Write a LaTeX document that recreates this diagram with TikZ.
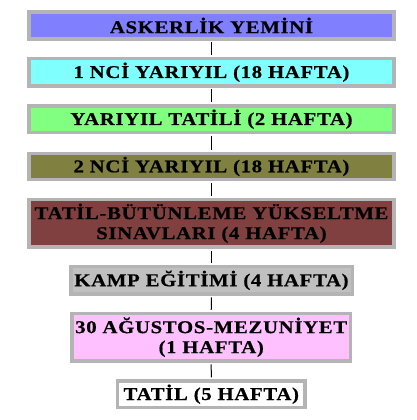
\documentclass[tikz,border=0pt]{standalone}
\usepackage{fontspec}
\setmainfont{Liberation Serif}[FakeStretch=1.15,LetterSpace=4,BoldFeatures={FakeBold=0.6}]
\definecolor{framegray}{HTML}{B4B4B4}
\definecolor{yeminblue}{HTML}{8080FF}
\definecolor{firstcyan}{HTML}{80FFFF}
\definecolor{breakgreen}{HTML}{80FF80}
\definecolor{secondolive}{HTML}{808040}
\definecolor{examred}{HTML}{804040}
\definecolor{campgray}{HTML}{C0C0C0}
\definecolor{gradpink}{HTML}{FFC0FF}
\begin{document}
\begin{tikzpicture}[x=1pt,y=-1pt,
    phase/.style={draw=framegray, line width=3.5pt, inner sep=0pt, align=center,
        font=\fontsize{18}{20}\selectfont\bfseries},
    link/.style={draw=black, line width=1pt, shorten <=1.75pt, shorten >=1.75pt}]
        % Fix the page size
        \useasboundingbox (0,0) rectangle (417,420);

        % Wide phases of the school year
        \node[phase, fill=yeminblue, minimum width=365pt, minimum height=27pt] (yemin) at (211.5,25.5) {ASKERLİK YEMİNİ};
        \node[phase, fill=firstcyan, minimum width=365pt, minimum height=27.5pt] (term1) at (211.5,72.2) {1 NCİ YARIYIL (18 HAFTA)};
        \node[phase, fill=breakgreen, minimum width=365pt, minimum height=26.5pt] (break) at (211.5,119.2) {YARIYIL TATİLİ (2 HAFTA)};
        \node[phase, fill=secondolive, minimum width=365pt, minimum height=26pt] (term2) at (211.5,166.5) {2 NCİ YARIYIL (18 HAFTA)};
        \node[phase, fill=examred, minimum width=365pt, minimum height=47.8pt] (exams) at (211.5,223.3) {TATİL-BÜTÜNLEME YÜKSELTME\\SINAVLARI (4 HAFTA)};

        % Narrower phases at the end
        \node[phase, fill=campgray, minimum width=281.5pt, minimum height=27.2pt] (camp) at (211.5,280.3) {KAMP EĞİTİMİ (4 HAFTA)};
        \node[phase, fill=gradpink, minimum width=278.5pt, minimum height=47.5pt] (grad) at (211.2,337.2) {30 AĞUSTOS-MEZUNİYET\\(1 HAFTA)};
        \node[phase, fill=white, minimum width=187.5pt, minimum height=26.5pt] (holiday) at (211.3,394.2) {TATİL (5 HAFTA)};

        % Join the phases
        \foreach \a/\b in {yemin/term1, term1/break, break/term2, term2/exams, exams/camp, camp/grad, grad/holiday}
            \draw[link] (\a.south) -- (\b.north);
    \end{tikzpicture}
\end{document}
